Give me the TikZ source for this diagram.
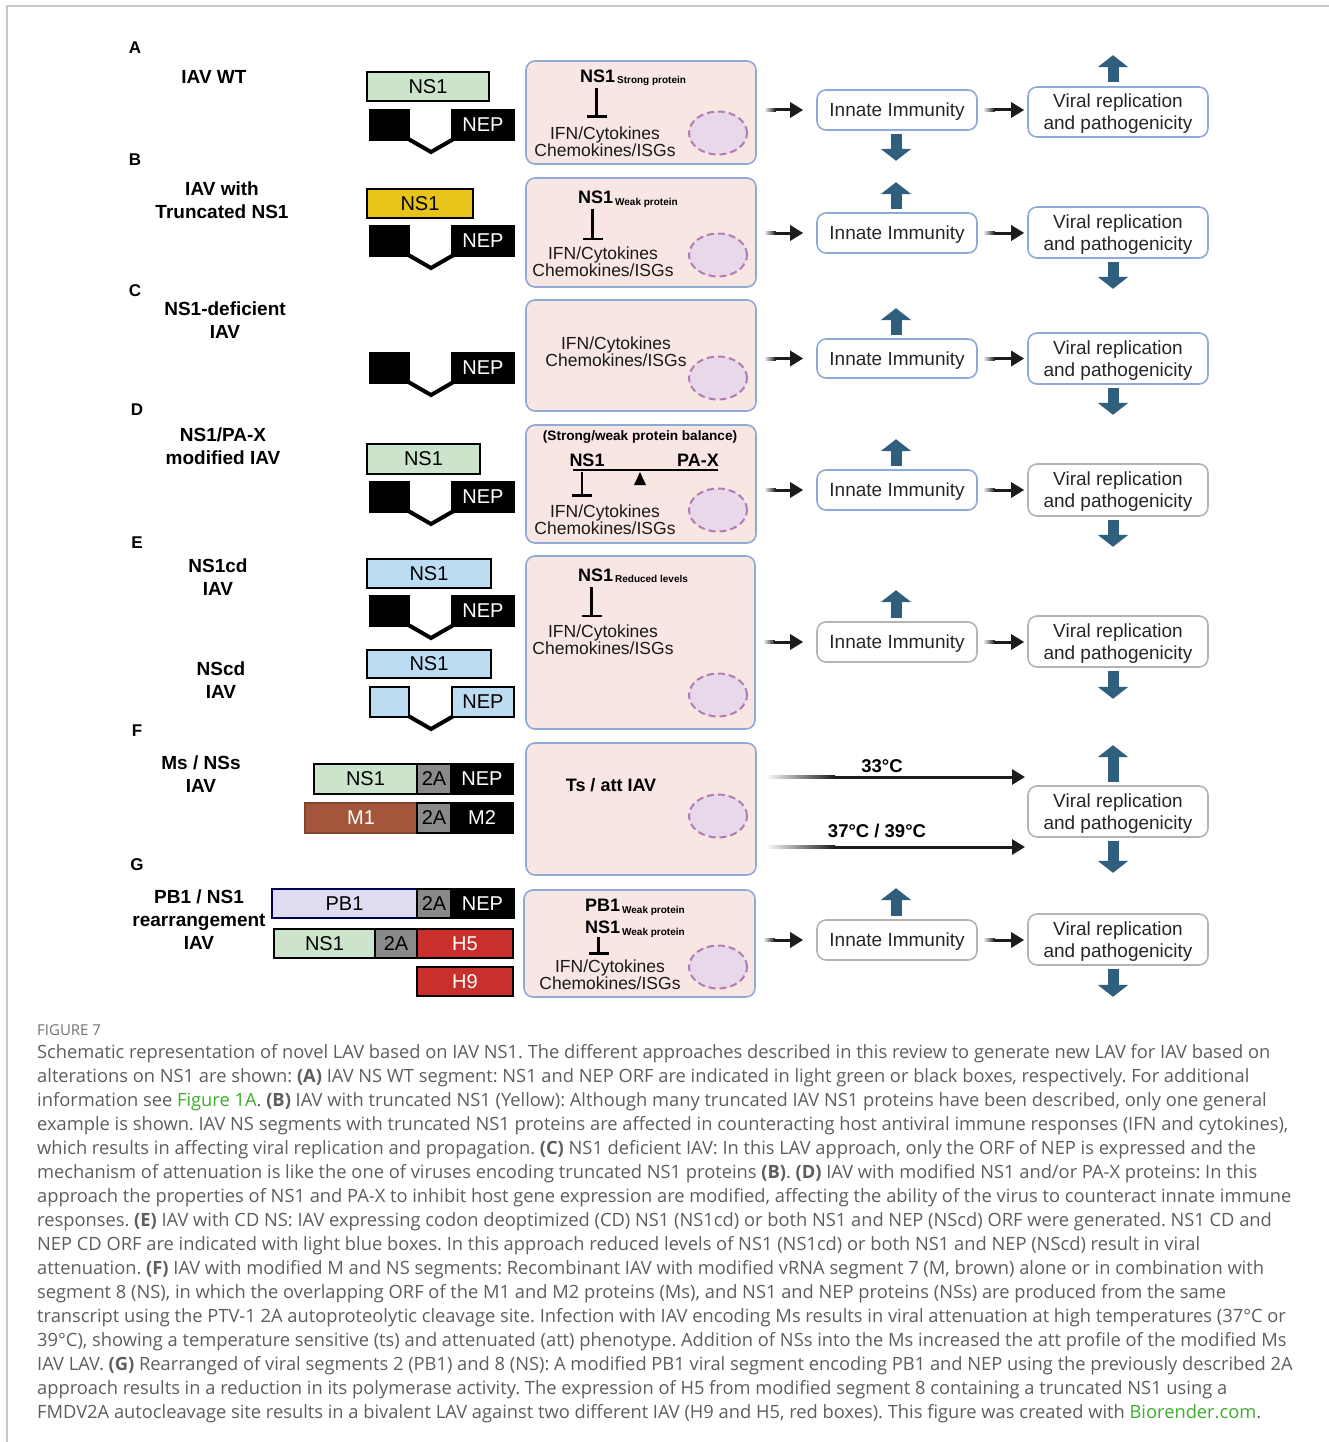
\documentclass[tikz,border=0pt]{standalone}
\usepackage{fontspec}
\setmainfont{Liberation Sans}
\newfontfamily\capfont{Open Sans}
\usetikzlibrary{arrows.meta,shapes.geometric,calc}
\definecolor{nsgreen}{HTML}{CDE4CC}
\definecolor{nsyellow}{HTML}{E8C41A}
\definecolor{nsblue}{HTML}{BCDCF2}
\definecolor{pblav}{HTML}{DFDCF2}
\definecolor{mbrown}{HTML}{A3563B}
\definecolor{twoa}{HTML}{8A8A8A}
\definecolor{hred}{HTML}{C9302C}
\definecolor{boxpink}{HTML}{F7E6E1}
\definecolor{boxblue}{HTML}{8EAAD8}
\definecolor{boxgray}{HTML}{B4B4B4}
\definecolor{ellfill}{HTML}{E8D8EA}
\definecolor{ellline}{HTML}{B27BB4}
\definecolor{blockblue}{HTML}{2F5F7D}
\definecolor{arrblack}{HTML}{1C1C1C}
\definecolor{capgray}{HTML}{5E5E5E}
\definecolor{capgreen}{HTML}{3DAE2B}
\definecolor{framegray}{HTML}{C8C8C8}
\newcommand\fsz[2]{\fontsize{#1}{#2}\selectfont}
\newcommand\rbox[7]{\node[#6, minimum width={(#4)-(#2)}, minimum height={(#5)-(#3)}] (#1) at ({((#2)+(#4))/2},{((#3)+(#5))/2}) {#7};}
\newcommand\nep[4]{%
  \rbox{#1l}{370}{#2}{409}{#2+30}{segbox,fill=#3}{}
  \rbox{#1r}{452}{#2}{514}{#2+30}{segbox,fill=#3,text=#4}{NEP}
  \draw[vline] ([shift={(-1pt,1.5pt)}]#1l.south east) -- (431,#2+42) -- ([shift={(2pt,1.5pt)}]#1r.south west);}
% gradient arrow: start coordinate, end coordinate, fade length
\newcommand\garr[3]{%
  \shade[left color=white, right color=arrblack] ($(#1)+(0,-1.5)$) rectangle ($(#1)+(#3,1.5)$);
  \draw[arr] ($(#1)+(#3-0.5,0)$) -- (#2);}
\newcommand\rowarrows[3]{% center box, innate box, viral box
  \coordinate (#2s1) at ($(#1.east |- #2.west)+(7,0)$);
  \coordinate (#2e1) at ($(#2.west)+(-13,0)$);
  \coordinate (#2s2) at ($(#2.east)+(5,0)$);
  \coordinate (#2e2) at ($(#3.west |- #2.east)+(-3,0)$);
  \garr{#2s1}{#2e1}{12}
  \garr{#2s2}{#2e2}{12}}
\tikzset{
 lett/.style={font=\fsz{17}{20}\bfseries},
 ttl/.style={font=\fsz{19}{23}\bfseries, align=center},
 segbox/.style={draw=black, line width=1.3pt, inner sep=0pt, font=\fsz{20}{20}},
 twobox/.style={segbox, fill=twoa, text=black},
 cbox/.style={draw=boxblue, line width=1.6pt, fill=boxpink, rounded corners=9pt, inner sep=0pt},
 ibox/.style={draw=boxblue, line width=1.6pt, fill=white, rounded corners=9pt, inner sep=0pt, font=\fsz{19}{22}, text=black!85, text depth=0pt},
 vbox/.style={ibox, align=center},
 grayb/.style={draw=boxgray},
 ifn/.style={font=\fsz{17.5}{17}, align=center, inner sep=0pt, text=black!90},
 bigb/.style={font=\fsz{18}{18}\bfseries, inner sep=0pt},
 subb/.style={font=\fsz{10}{10}\bfseries, inner sep=0pt},
 tempb/.style={font=\fsz{18.5}{20}\bfseries, inner sep=0pt},
 ell/.style={ellipse, draw=ellline, fill=ellfill, line width=2pt, dash pattern=on 7pt off 4pt, minimum width=58pt, minimum height=43pt, inner sep=0pt},
 arr/.style={line width=3pt, draw=arrblack, -{Triangle[width=15pt,length=13pt]}},
 barr/.style={line width=11pt, draw=blockblue, -{Triangle[width=30pt,length=12pt]}},
 inh/.style={line width=2.6pt, -{Bar[width=20pt,line width=2.6pt]}},
 vline/.style={line width=4pt, draw=black},
 capt/.style={font=\capfont\fsz{18.3}{24}\frenchspacing, text=capgray, inner sep=0pt, anchor=base west},
}
\begin{document}
\begin{tikzpicture}[x=1pt,y=-1pt]
\useasboundingbox (0,0) rectangle (1329,1442);
\fill[white] (0,0) rectangle (1329,1442);
\draw[framegray, line width=1.5pt] (7,1442) -- (7,6) -- (1329,6);

% ---------------- Row A
\node[lett] (LA) at (135,48) {A};
\node[ttl] (TA) at (214,77) {IAV WT};
\rbox{sA}{367}{72}{489}{101}{segbox,fill=nsgreen}{NS1}
\nep{nA}{110}{black}{white}
\rbox{cA}{526}{61}{756}{164}{cbox}{}
\node[bigb,anchor=base west] (pA) at (580,82.5) {NS1};
\node[subb,anchor=base west] (qA) at ([xshift=1.5pt,yshift=-1.5pt]pA.base east) {Strong protein};
\draw[inh] ([xshift=-1pt,yshift=-5pt]pA.south) -- ++(0,30);
\node[ifn] (fA) at (605,141.5) {IFN/Cytokines\\Chemokines/ISGs};
\node[ell] (eA) at (718,133) {};
\rbox{iA}{817}{90}{977}{130}{ibox}{Innate Immunity}
\rbox{vA}{1028}{87}{1208}{137}{vbox}{Viral replication\\and pathogenicity}
\rowarrows{cA}{iA}{vA}
\draw[barr] ([xshift=-1pt,yshift=-3pt]iA.south) -- ++(0,27);
\draw[barr] ([xshift=-5pt,yshift=4pt]vA.north) -- ++(0,-27);

% ---------------- Row B
\node[lett] (LB) at (135,160) {B};
\node[ttl] (TB) at (222,200.5) {IAV with\\Truncated NS1};
\rbox{sB}{367}{189}{473}{218}{segbox,fill=nsyellow}{NS1}
\nep{nB}{226}{black}{white}
\rbox{cB}{526}{178}{756}{287}{cbox}{}
\node[bigb,anchor=base west] (pB) at (578,204) {NS1};
\node[subb,anchor=base west] (qB) at ([xshift=1.5pt,yshift=-1.5pt]pB.base east) {Weak protein};
\draw[inh] ([xshift=-3pt,yshift=-5pt]pB.south) -- ++(0,31);
\node[ifn] (fB) at (603,262) {IFN/Cytokines\\Chemokines/ISGs};
\node[ell] (eB) at (718,255) {};
\rbox{iB}{817}{213}{977}{253}{ibox}{Innate Immunity}
\rbox{vB}{1028}{207}{1208}{258}{vbox}{Viral replication\\and pathogenicity}
\rowarrows{cB}{iB}{vB}
\draw[barr] ([xshift=-1pt,yshift=3pt]iB.north) -- ++(0,-27);
\draw[barr] ([xshift=-5pt,yshift=-3pt]vB.south) -- ++(0,27);

% ---------------- Row C
\node[lett] (LC) at (135,291) {C};
\node[ttl] (TC) at (225,320) {NS1-deficient\\IAV};
\nep{nC}{353}{black}{white}
\rbox{cC}{526}{300}{756}{411}{cbox}{}
\node[ifn] (fC) at (616,351.5) {IFN/Cytokines\\Chemokines/ISGs};
\node[ell] (eC) at (718,378) {};
\rbox{iC}{817}{339}{977}{378}{ibox}{Innate Immunity}
\rbox{vC}{1028}{333}{1208}{384}{vbox}{Viral replication\\and pathogenicity}
\rowarrows{cC}{iC}{vC}
\draw[barr] ([xshift=-1pt,yshift=3pt]iC.north) -- ++(0,-27);
\draw[barr] ([xshift=-5pt,yshift=-3pt]vC.south) -- ++(0,27);

% ---------------- Row D
\node[lett] (LD) at (137,410) {D};
\node[ttl] (TD) at (223,446.5) {NS1/PA-X\\modified IAV};
\rbox{sD}{367}{444}{480}{474}{segbox,fill=nsgreen}{NS1}
\nep{nD}{482}{black}{white}
\rbox{cD}{526}{425}{756}{543}{cbox}{}
\node[font=\fsz{13.6}{15}\bfseries, inner sep=0pt] (hD) at (640,437) {(Strong/weak protein balance)};
\node[bigb] (pD) at (587,460) {NS1};
\node[bigb] (xD) at (698,460) {PA-X};
\coordinate (bl) at (573,470);
\coordinate (br) at (718,470);
\draw[line width=2.4pt] (bl) -- (br);
\fill ($(bl)!0.462!(br)+(0,2)$) -- ++(6,13) -- ++(-12,0) -- cycle;
\draw[inh] ([xshift=9pt,yshift=-1.5pt]bl) -- ++(0,25);
\node[ifn] (fD) at (605,519.5) {IFN/Cytokines\\Chemokines/ISGs};
\node[ell] (eD) at (718,510) {};
\rbox{iD}{817}{470}{977}{510}{ibox}{Innate Immunity}
\rbox{vD}{1028}{464}{1208}{516}{vbox,grayb}{Viral replication\\and pathogenicity}
\rowarrows{cD}{iD}{vD}
\draw[barr] ([xshift=-1pt,yshift=3pt]iD.north) -- ++(0,-27);
\draw[barr] ([xshift=-5pt,yshift=-3pt]vD.south) -- ++(0,27);

% ---------------- Row E
\node[lett] (LE) at (137,543) {E};
\node[ttl] (TE1) at (218,577.5) {NS1cd\\IAV};
\node[ttl] (TE2) at (221,680) {NScd\\IAV};
\rbox{sE1}{367}{559}{491}{588}{segbox,fill=nsblue}{NS1}
\nep{nE}{596}{black}{white}
\rbox{sE2}{367}{650}{491}{678}{segbox,fill=nsblue}{NS1}
\nep{mE}{687}{nsblue}{black}
\rbox{cE}{526}{556}{755}{729}{cbox}{}
\node[bigb,anchor=base west] (pE) at (578,581) {NS1};
\node[subb,anchor=base west] (qE) at ([xshift=1.5pt,yshift=-1.5pt]pE.base east) {Reduced levels};
\draw[inh] ([xshift=-4pt,yshift=-6pt]pE.south) -- ++(0,30);
\node[ifn] (fE) at (603,639.5) {IFN/Cytokines\\Chemokines/ISGs};
\node[ell] (eE) at (718,695) {};
\rbox{iE}{817}{622}{977}{662}{ibox,grayb}{Innate Immunity}
\rbox{vE}{1028}{616}{1208}{667}{vbox,grayb}{Viral replication\\and pathogenicity}
\rowarrows{cE}{iE}{vE}
\draw[barr] ([xshift=-1pt,yshift=3pt]iE.north) -- ++(0,-28);
\draw[barr] ([xshift=-5pt,yshift=-3pt]vE.south) -- ++(0,28);

% ---------------- Row F
\node[lett] (LF) at (137,731) {F};
\node[ttl] (TF) at (201,774.5) {Ms / NSs\\IAV};
\rbox{sF1}{314}{764}{417}{794}{segbox,fill=nsgreen}{NS1}
\rbox{sF2}{417}{764}{451}{794}{twobox}{2A}
\rbox{sF3}{451}{764}{513}{794}{segbox,fill=black,text=white}{NEP}
\rbox{sF4}{305}{803}{417}{833}{segbox,fill=mbrown,draw=mbrown!80!black,text=white}{M1}
\rbox{sF5}{417}{803}{451}{833}{twobox}{2A}
\rbox{sF6}{451}{803}{513}{833}{segbox,fill=black,text=white}{M2}
\rbox{cF}{526}{743}{756}{875}{cbox}{}
\node[font=\fsz{18}{20}\bfseries, inner sep=0pt] (tF) at (611,785) {Ts / att IAV};
\node[ell] (eF) at (718,816) {};
\rbox{vF}{1028}{786}{1208}{837}{vbox,grayb}{Viral replication\\and pathogenicity}
\coordinate (a33) at (765,777);
\coordinate (e33) at (1025,777);
\coordinate (a37) at (765,847);
\coordinate (e37) at (1025,847);
\garr{a33}{e33}{70}
\garr{a37}{e37}{70}
\node[tempb] (l33) at (882,766) {33°C};
\node[tempb] (l37) at (877,831) {37°C / 39°C};
\draw[barr] ([xshift=-5pt,yshift=3pt]vF.north) -- ++(0,-37);
\draw[barr] ([xshift=-5pt,yshift=-3pt]vF.south) -- ++(0,32);

% ---------------- Row G
\node[lett] (LG) at (137,865) {G};
\node[ttl] (TG) at (199,920) {PB1 / NS1\\rearrangement\\IAV};
\rbox{sG1}{272}{889}{417}{918}{segbox,fill=pblav,draw=black!70!blue}{PB1}
\rbox{sG2}{417}{889}{451}{918}{twobox}{2A}
\rbox{sG3}{451}{889}{514}{918}{segbox,fill=black,text=white}{NEP}
\rbox{sG4}{274}{929}{375}{958}{segbox,fill=nsgreen}{NS1}
\rbox{sG5}{375}{929}{417}{958}{twobox}{2A}
\rbox{sG6}{417}{929}{513}{958}{segbox,fill=hred,text=white}{H5}
\rbox{sG7}{417}{967}{513}{996}{segbox,fill=hred,text=white}{H9}
\rbox{cG}{524}{890}{755}{997}{cbox}{}
\node[bigb,anchor=base west] (pG1) at (585,911.5) {PB1};
\node[subb,anchor=base west] (qG1) at ([xshift=1.5pt,yshift=-1.5pt]pG1.base east) {Weak protein};
\node[bigb,anchor=base west] (pG2) at (585,933.5) {NS1};
\node[subb,anchor=base west] (qG2) at ([xshift=1.5pt,yshift=-1.5pt]pG2.base east) {Weak protein};
\draw[inh] ([xshift=-4pt,yshift=-3pt]pG2.south) -- ++(0,18);
\node[ifn] (fG) at (610,974.5) {IFN/Cytokines\\Chemokines/ISGs};
\node[ell] (eG) at (718,967) {};
\rbox{iG}{817}{920}{977}{960}{ibox,grayb}{Innate Immunity}
\rbox{vG}{1028}{914}{1208}{965}{vbox,grayb}{Viral replication\\and pathogenicity}
\rowarrows{cG}{iG}{vG}
\draw[barr] ([xshift=-1pt,yshift=3pt]iG.north) -- ++(0,-28);
\draw[barr] ([xshift=-5pt,yshift=-3pt]vG.south) -- ++(0,28);

% ---------------- Caption
\node[capt, font=\capfont\fsz{15}{16}, text=black!55] (fig) at (37,1035) {FIGURE 7};
\node[capt] (c1) at (37,1058) {Schematic representation of novel LAV based on IAV NS1. The different approaches described in this review to generate new LAV for IAV based on};
\node[capt] (c2) at (37,1082) {alterations on NS1 are shown: \textbf{(A)} IAV NS WT segment: NS1 and NEP ORF are indicated in light green or black boxes, respectively. For additional};
\node[capt] (c3) at (37,1106) {information see \textcolor{capgreen}{Figure 1A}. \textbf{(B)} IAV with truncated NS1 (Yellow): Although many truncated IAV NS1 proteins have been described, only one general};
\node[capt] (c4) at (37,1130) {example is shown. IAV NS segments with truncated NS1 proteins are affected in counteracting host antiviral immune responses (IFN and cytokines),};
\node[capt] (c5) at (37,1154) {which results in affecting viral replication and propagation. \textbf{(C)} NS1 deficient IAV: In this LAV approach, only the ORF of NEP is expressed and the};
\node[capt] (c6) at (37,1178) {mechanism of attenuation is like the one of viruses encoding truncated NS1 proteins \textbf{(B)}. \textbf{(D)} IAV with modified NS1 and/or PA-X proteins: In this};
\node[capt] (c7) at (37,1202) {approach the properties of NS1 and PA-X to inhibit host gene expression are modified, affecting the ability of the virus to counteract innate immune};
\node[capt] (c8) at (37,1226) {responses. \textbf{(E)} IAV with CD NS: IAV expressing codon deoptimized (CD) NS1 (NS1cd) or both NS1 and NEP (NScd) ORF were generated. NS1 CD and};
\node[capt] (c9) at (37,1250) {NEP CD ORF are indicated with light blue boxes. In this approach reduced levels of NS1 (NS1cd) or both NS1 and NEP (NScd) result in viral};
\node[capt] (c10) at (37,1274) {attenuation. \textbf{(F)} IAV with modified M and NS segments: Recombinant IAV with modified vRNA segment 7 (M, brown) alone or in combination with};
\node[capt] (c11) at (37,1298) {segment 8 (NS), in which the overlapping ORF of the M1 and M2 proteins (Ms), and NS1 and NEP proteins (NSs) are produced from the same};
\node[capt] (c12) at (37,1322) {transcript using the PTV-1 2A autoproteolytic cleavage site. Infection with IAV encoding Ms results in viral attenuation at high temperatures (37°C or};
\node[capt] (c13) at (37,1346) {39°C), showing a temperature sensitive (ts) and attenuated (att) phenotype. Addition of NSs into the Ms increased the att profile of the modified Ms};
\node[capt] (c14) at (37,1370) {IAV LAV. \textbf{(G)} Rearranged of viral segments 2 (PB1) and 8 (NS): A modified PB1 viral segment encoding PB1 and NEP using the previously described 2A};
\node[capt] (c15) at (37,1394) {approach results in a reduction in its polymerase activity. The expression of H5 from modified segment 8 containing a truncated NS1 using a};
\node[capt] (c16) at (37,1418) {FMDV2A autocleavage site results in a bivalent LAV against two different IAV (H9 and H5, red boxes). This figure was created with \textcolor{capgreen}{Biorender.com}.};
\end{tikzpicture}
\end{document}
